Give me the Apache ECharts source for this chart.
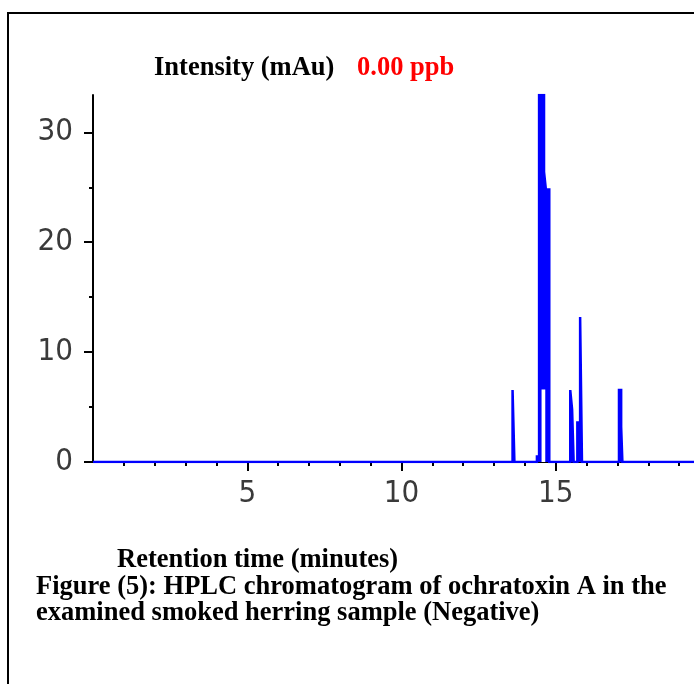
<!DOCTYPE html>
<html>
<head>
<meta charset="utf-8">
<script src="https://cdn.jsdelivr.net/npm/echarts@6/dist/echarts.min.js"></script>
<style>
html,body{margin:0;padding:0;background:#fff;overflow:hidden;}
#chart{width:720px;height:684px;}
</style>
</head>
<body>
<div id="chart"></div>
<script>
// Retention time (minutes) and intensity (mAu) vertices of the chromatogram trace
const retentionTime = [0, 13.60, 13.60, 13.66, 13.66,
  14.39, 14.39, 14.46, 14.46, 14.62, 14.62, 14.68, 14.68, 14.79, 14.79,
  15.47, 15.47, 15.53, 15.53, 15.58, 15.58,
  15.70, 15.70, 15.79, 15.79, 15.85, 15.85,
  17.05, 17.05, 17.12, 17.12, 17.16, 17.16, 20];
const intensity = [0, 0, 6.55, 6.55, 0,
  0, 0.5, 0.5, 33.4, 33.4, 26.4, 26.4, 24.8, 24.8, 0,
  0, 6.55, 6.55, 4.8, 4.8, 0,
  0, 3.6, 3.6, 13.2, 13.2, 0,
  0, 6.55, 6.55, 3.2, 3.2, 0, 0];
// hollow (unfilled) part inside the main peak
const hollowTime = [14.54, 14.54, 14.66, 14.66];
const hollowIntensity = [0, 6.6, 6.6, 0];

const xMajorTicks = [5, 10, 15];
const xMinorTicks = [1, 2, 3, 4, 6, 7, 8, 9, 11, 12, 13, 14, 16, 17, 18, 19];
const yMajorTicks = [0, 10, 20, 30];
const yMinorTicks = [5, 15, 25];
const xMin = 0, xMax = 20, yMin = 0, yMax = 33.4;

const yTitle = 'Intensity (mAu)';
const concText = '0.00 ppb';
const xTitle = 'Retention time (minutes)';
const caption1 = 'Figure (5): HPLC chromatogram of ochratoxin A in the';
const caption2 = 'examined smoked herring sample (Negative)';

const trace = retentionTime.map((t, i) => [t, intensity[i]]);
const hollow = hollowTime.map((t, i) => [t, hollowIntensity[i]]);

const labelFont = {fontFamily: '"Liberation Sans Narrow","DejaVu Sans Condensed",sans-serif', fontSize: 31, color: '#3a3a3a'};
const serif = 'bold 26.5px "Liberation Serif","Times New Roman",serif';

const chart = echarts.init(document.getElementById('chart'), null, {renderer: 'canvas'});
chart.setOption({
  animation: false,
  backgroundColor: '#fff',
  grid: {left: 93, top: 95, width: 617, height: 367, containLabel: false},
  xAxis: [
    {type: 'value', min: xMin, max: xMax, offset: 2.5,
     axisLine: {show: true, lineStyle: {color: '#000', width: 2}},
     axisTick: {show: true, customValues: xMajorTicks, length: 9, lineStyle: {color: '#000', width: 2}},
     axisLabel: {show: true, customValues: xMajorTicks, margin: 14, ...labelFont},
     splitLine: {show: false}},
    {type: 'value', min: xMin, max: xMax, offset: 2.5, position: 'bottom',
     axisLine: {show: false},
     axisTick: {show: true, customValues: xMinorTicks, length: 4, lineStyle: {color: '#000', width: 2}},
     axisLabel: {show: false}, splitLine: {show: false}}
  ],
  yAxis: [
    {type: 'value', min: yMin, max: yMax,
     axisLine: {show: true, lineStyle: {color: '#000', width: 2}},
     axisTick: {show: true, customValues: yMajorTicks, length: 9, lineStyle: {color: '#000', width: 2}},
     axisLabel: {show: true, customValues: yMajorTicks, margin: 20, ...labelFont},
     splitLine: {show: false}},
    {type: 'value', min: yMin, max: yMax, position: 'left',
     axisLine: {show: false},
     axisTick: {show: true, customValues: yMinorTicks, length: 4, lineStyle: {color: '#000', width: 2}},
     axisLabel: {show: false}, splitLine: {show: false}}
  ],
  series: [
    {type: 'line', data: trace, symbol: 'none', z: 3,
     lineStyle: {color: '#0000ff', width: 2.5, join: 'miter'},
     areaStyle: {color: '#0000ff', opacity: 1}},
    {type: 'line', data: hollow, symbol: 'none', z: 4,
     lineStyle: {width: 0, opacity: 0},
     areaStyle: {color: '#ffffff', opacity: 1}}
  ],
  graphic: [
    {type: 'rect', shape: {x: 8, y: 13, width: 800, height: 800}, style: {fill: 'none', stroke: '#000', lineWidth: 2}, z: 100},
    {type: 'text', x: 154, y: 55, style: {text: yTitle, font: serif, fill: '#000', verticalAlign: 'top'}},
    {type: 'text', x: 357, y: 55, style: {text: concText, font: serif, fill: '#ff0000', verticalAlign: 'top'}},
    {type: 'text', x: 117, y: 547, style: {text: xTitle, font: serif, fill: '#000', verticalAlign: 'top'}},
    {type: 'text', x: 36, y: 574, style: {text: caption1, font: serif, fill: '#000', verticalAlign: 'top'}},
    {type: 'text', x: 36, y: 600, style: {text: caption2, font: serif, fill: '#000', verticalAlign: 'top'}}
  ]
});
</script>
</body>
</html>
